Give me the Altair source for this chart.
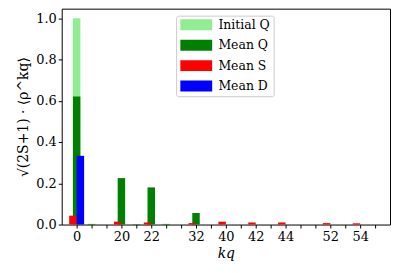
import altair as alt
import pandas as pd

# categories (kq index order) and which tick labels are displayed
kq_labels = ["0", "10", "11", "20", "21", "22", "30", "31", "32", "33",
             "40", "41", "42", "43", "44", "50", "51", "52", "53", "54", "55"]
shown_labels = ["0", "20", "22", "32", "40", "42", "44", "52", "54"]

series_names = ["Initial Q", "Mean Q", "Mean S", "Mean D"]
series_colors = ["#90ee90", "#008000", "#ff0000", "#0000ff"]

initial_q = [1.0, 0.0, 0.0, 0.0, 0.0, 0.0, 0.0, 0.0, 0.0, 0.0,
             0.0, 0.0, 0.0, 0.0, 0.0, 0.0, 0.0, 0.0, 0.0, 0.0, 0.0]
mean_q = [0.62, 0.003, 0.0, 0.225, 0.002, 0.18, 0.003, 0.0, 0.056, 0.0,
          0.0, 0.0, 0.0, 0.0, 0.0, 0.0, 0.0, 0.0, 0.0, 0.0, 0.0]
mean_s = [0.043, 0.0, 0.0, 0.014, 0.0, 0.01, 0.0, 0.0, 0.007, 0.0,
          0.014, 0.0, 0.01, 0.0, 0.01, 0.0, 0.0, 0.007, 0.0, 0.006, 0.0]
mean_d = [0.333, 0.0, 0.0, 0.0, 0.0, 0.0, 0.0, 0.0, 0.0, 0.0,
          0.0, 0.0, 0.0, 0.0, 0.0, 0.0, 0.0, 0.0, 0.0, 0.0, 0.0]

y_ticks = [0.0, 0.2, 0.4, 0.6, 0.8, 1.0]

# bar placement relative to the category index (style)
bar_width = 0.5
offsets = {"Initial Q": -0.25, "Mean Q": -0.25, "Mean S": -0.5, "Mean D": 0.0}

rows = []
for name, vals in zip(series_names, [initial_q, mean_q, mean_s, mean_d]):
    for i, v in enumerate(vals):
        if v > 0:
            rows.append({"idx": i, "series": name, "value": v})
df = pd.DataFrame(rows)
df["x0"] = df["idx"] + df["series"].map(offsets)
df["x1"] = df["x0"] + bar_width

label_array = "[" + ",".join(
    "'" + (l if l in shown_labels else "") + "'" for l in kq_labels) + "]"
label_expr = label_array + "[datum.value]"

FONT = "DejaVu Serif"

chart = alt.Chart(df).mark_rect(opacity=1, strokeWidth=0).encode(
    x=alt.X("x0:Q",
            scale=alt.Scale(domain=[-1, 21], nice=False, zero=False),
            axis=alt.Axis(values=list(range(len(kq_labels))), labelExpr=label_expr,
                          title="kq", titleFontStyle="italic", titleFontWeight="normal",
                          titleFont=FONT, titleFontSize=14, titlePadding=3,
                          labelFont=FONT, labelFontSize=13, labelPadding=3,
                          tickSize=3.5, tickColor="black", domain=False,
                          grid=False, labelColor="black", titleColor="black",
                          labelOverlap=False)),
    x2="x1:Q",
    y=alt.Y("value:Q", stack=None,
            scale=alt.Scale(domain=[0, 1.046], nice=False),
            axis=alt.Axis(values=y_ticks, format=".1f",
                          title="√(2S+1) · ⟨ρ^kq⟩", titleFontWeight="normal",
                          titleFont=FONT, titleFontSize=14, titlePadding=5,
                          labelFont=FONT, labelFontSize=13, labelPadding=2,
                          tickSize=3.5, tickColor="black", domain=False,
                          grid=False, labelColor="black", titleColor="black")),
    y2=alt.datum(0),
    color=alt.Color("series:N",
                    scale=alt.Scale(domain=series_names, range=series_colors),
                    legend=alt.Legend(orient="none", legendX=115, legendY=7,
                                      title=None,
                                      symbolType="M-0.909,-1H4.909V1H-0.909Z",
                                      symbolSize=121, symbolStrokeWidth=0,
                                      symbolOpacity=1,
                                      labelFont=FONT, labelFontSize=12.5,
                                      labelColor="black", labelOffset=27,
                                      padding=3, rowPadding=7.5,
                                      strokeColor="#cccccc",
                                      fillColor="rgba(255,255,255,0.8)",
                                      cornerRadius=2)),
).properties(
    width=330,
    height=217,
    autosize=alt.AutoSizeParams(type="none"),
    padding={"left": 54, "top": 0, "right": 1, "bottom": 42},
).configure_view(
    stroke="black", strokeWidth=1
)

chart.save("out.html", embed_options={"renderer": "svg", "actions": False})
